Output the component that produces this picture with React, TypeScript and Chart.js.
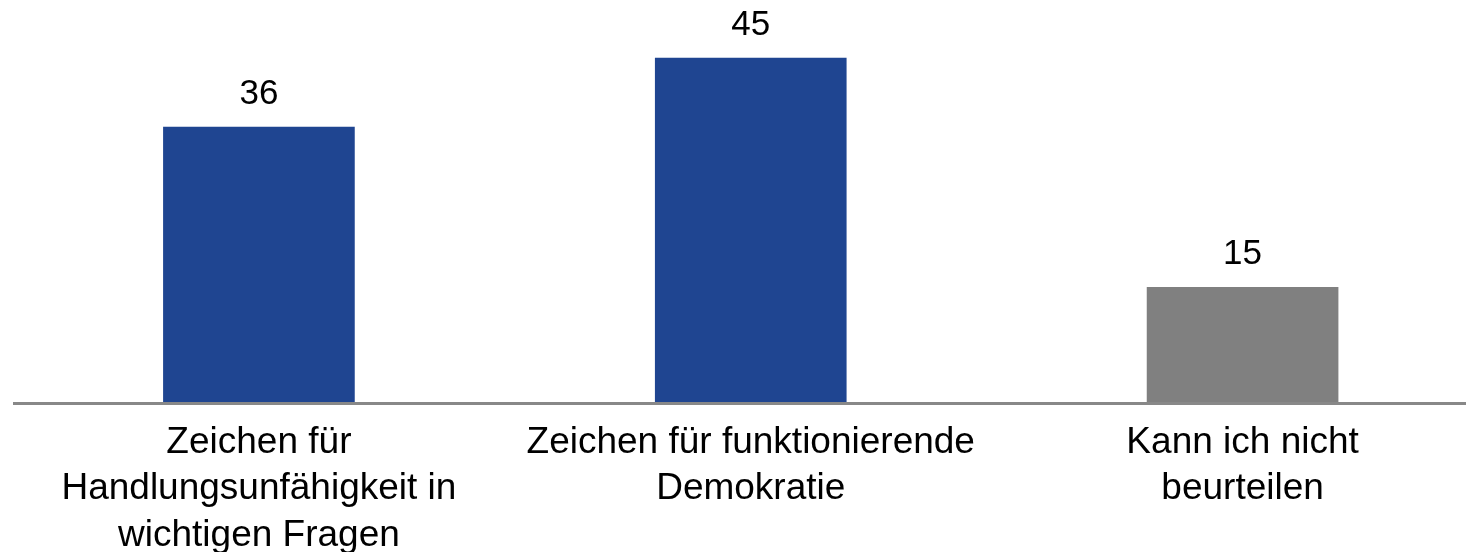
import React, { useEffect, useRef } from "react";
import { Chart, registerables } from "chart.js";

Chart.register(...registerables);

const categories: string[][] = [
  ["Zeichen für", "Handlungsunfähigkeit in", "wichtigen Fragen"],
  ["Zeichen für funktionierende", "Demokratie"],
  ["Kann ich nicht", "beurteilen"],
];
const values: number[] = [36, 45, 15];
const barColors: string[] = ["#1F4591", "#1F4591", "#808080"];
const yMax = 50;

const FONT = "'Liberation Sans', Arial, Helvetica, sans-serif";

const valueLabels = {
  id: "valueLabels",
  afterDatasetsDraw(chart: any) {
    const ctx = chart.ctx;
    const meta = chart.getDatasetMeta(0);
    ctx.save();
    ctx.font = `35px ${FONT}`;
    ctx.fillStyle = "#000000";
    ctx.textAlign = "center";
    ctx.textBaseline = "alphabetic";
    meta.data.forEach((bar: any, i: number) => {
      ctx.fillText(String(values[i]), bar.x, bar.y - 23);
    });
    // axis line
    const area = chart.chartArea;
    ctx.strokeStyle = "#888888";
    ctx.lineWidth = 3;
    ctx.beginPath();
    ctx.moveTo(area.left, area.bottom + 1.5);
    ctx.lineTo(area.right, area.bottom + 1.5);
    ctx.stroke();
    ctx.restore();
  },
};

export default function App() {
  const ref = useRef<HTMLCanvasElement | null>(null);
  useEffect(() => {
    if (!ref.current) return;
    const chart = new Chart(ref.current, {
      type: "bar",
      data: {
        labels: categories,
        datasets: [
          {
            data: values,
            backgroundColor: barColors,
            borderWidth: 0,
            barThickness: 191,
          },
        ],
      },
      options: {
        animation: false,
        responsive: true,
        maintainAspectRatio: false,
        layout: { padding: { left: 13, right: 11.5, top: 20, bottom: 0 } },
        plugins: {
          legend: { display: false },
          tooltip: { enabled: false },
        },
        scales: {
          x: {
            grid: { display: false, drawTicks: false },
            border: { display: false },
            ticks: {
              color: "#000000",
              padding: 17,
              maxRotation: 0,
              autoSkip: false,
              font: { family: FONT, size: 37, lineHeight: 1.262 },
            },
            afterFit: (scale: any) => {
              scale.height = 552 - 402;
            },
          },
          y: {
            display: false,
            min: 0,
            max: yMax,
          },
        },
      },
      plugins: [valueLabels],
    });
    return () => chart.destroy();
  }, []);
  return (
    <div
      style={{
        position: "fixed",
        left: 0,
        top: 0,
        width: 1466,
        height: 552,
        overflow: "hidden",
        background: "#ffffff",
      }}
    >
      <div style={{ position: "relative", width: 1500, height: 552 }}>
        <canvas ref={ref} />
      </div>
    </div>
  );
}
